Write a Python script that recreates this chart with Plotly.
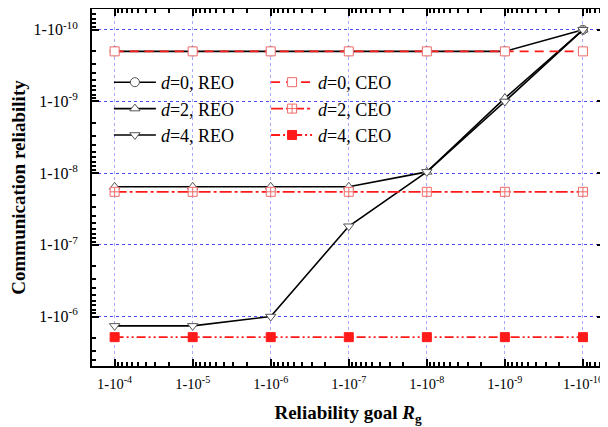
import plotly.graph_objects as go

# Reliability goal R_g, expressed as unreliability 1 - R_g (x positions)
goal_unrel = [1e-4, 1e-5, 1e-6, 1e-7, 1e-8, 1e-9, 1e-10]
x_ticktext = ["1-10<sup>-4</sup>", "1-10<sup>-5</sup>", "1-10<sup>-6</sup>", "1-10<sup>-7</sup>",
              "1-10<sup>-8</sup>", "1-10<sup>-9</sup>", "1-10<sup>-10</sup>"]

# Communication reliability, expressed as unreliability 1 - R
y_tickvals = [1e-6, 1e-7, 1e-8, 1e-9, 1e-10]
y_ticktext = ["1-10<sup>-6</sup>", "1-10<sup>-7</sup>", "1-10<sup>-8</sup>",
              "1-10<sup>-9</sup>", "1-10<sup>-10</sup>"]

reo_d0 = [2.0e-10, 2.0e-10, 2.0e-10, 2.0e-10, 2.0e-10, 2.0e-10, 1.0e-10]
reo_d2 = [1.55e-8, 1.55e-8, 1.55e-8, 1.55e-8, 9.6e-9, 9.0e-10, 1.0e-10]
reo_d4 = [1.35e-6, 1.35e-6, 1.0e-6, 5.5e-8, 9.6e-9, 1.0e-9, 1.0e-10]
ceo_d0 = [2.0e-10, 2.0e-10, 2.0e-10, 2.0e-10, 2.0e-10, 2.0e-10, 2.0e-10]
ceo_d2 = [1.82e-8, 1.82e-8, 1.82e-8, 1.82e-8, 1.82e-8, 1.82e-8, 1.82e-8]
ceo_d4 = [1.94e-6, 1.94e-6, 1.94e-6, 1.94e-6, 1.94e-6, 1.94e-6, 1.94e-6]

FONT = "Liberation Serif"
RED = "#ff1a1a"
LRED = "#f06a6a"

fig = go.Figure()

def reo(y, name, sym):
    fig.add_trace(go.Scatter(
        x=goal_unrel, y=y, name=name, mode="lines+markers", legend="legend",
        line=dict(color="black", width=1.6),
        marker=dict(symbol=sym, size=9, color="white", line=dict(color="#555555", width=1)),
    ))

def ceo(y, name, sym, dash, mcolor, mfill):
    fig.add_trace(go.Scatter(
        x=goal_unrel, y=y, name=name, mode="lines+markers", legend="legend2",
        line=dict(color=RED, width=1.8, dash=dash),
        marker=dict(symbol=sym, size=9, color=mfill, line=dict(color=mcolor, width=1)),
    ))

reo(reo_d0, "<i>d</i>=0, REO", "circle")
reo(reo_d2, "<i>d</i>=2, REO", "triangle-up")
reo(reo_d4, "<i>d</i>=4, REO", "triangle-down")
ceo(ceo_d0, "<i>d</i>=0, CEO", "square", "9px,6px", LRED, "white")
ceo(ceo_d2, "<i>d</i>=2, CEO", "square-cross", "12px,3px,3px,3px", LRED, "white")
ceo(ceo_d4, "<i>d</i>=4, CEO", "square", "9px,3px,2px,3px,2px,3px", RED, RED)

def minor_vals(lo, hi):
    vals = []
    for e in range(lo, hi + 1):
        for m in range(2, 10):
            vals.append(m * 10.0 ** e)
    return vals

axis_common = dict(
    type="log", showline=True, linecolor="black", linewidth=2, mirror="ticks",
    ticks="inside", ticklen=7, tickwidth=1.5, tickcolor="black",
    showgrid=True, griddash="dot", gridwidth=1, zeroline=False, automargin=False,
    tickfont=dict(family=FONT, size=14.5, color="black"),
)

# The page body adds an 8px offset, so the figure is 8px smaller than the window.
fig.update_layout(
    width=600, height=419,
    margin=dict(l=84, r=4, t=1, b=61),
    paper_bgcolor="white", plot_bgcolor="white",
    showlegend=True,
    font=dict(family=FONT, color="black"),
    xaxis=dict(
        axis_common, range=[-3.71, -10.27], tickmode="array",
        tickvals=goal_unrel, ticktext=x_ticktext, gridcolor="#a8a8ff",
        ticklabelstandoff=4,
        minor=dict(tickmode="array", tickvals=minor_vals(-11, -4), ticks="inside",
                   ticklen=4, tickcolor="black", showgrid=False),
        title=dict(text="<b>Reliability goal <i>R</i><sub>g</sub></b>",
                   font=dict(family=FONT, size=19, color="black"), standoff=14),
    ),
    yaxis=dict(
        axis_common, range=[-5.31, -10.29], tickmode="array",
        tickvals=y_tickvals, ticktext=y_ticktext, gridcolor="#4a4aff",
        ticklabelstandoff=9,
        tickfont=dict(family=FONT, size=16, color="black"),
        minor=dict(tickmode="array", tickvals=minor_vals(-11, -5), ticks="inside",
                   ticklen=4, tickcolor="black", showgrid=False),
        title=dict(text="<b>Communication reliability</b>",
                   font=dict(family=FONT, size=19, color="black"), standoff=8),
    ),
    legend=dict(x=0.033, y=0.846, xanchor="left", yanchor="top", bgcolor="rgba(0,0,0,0)",
                font=dict(family=FONT, size=18, color="black"), itemwidth=42,
                tracegroupgap=0),
    legend2=dict(x=0.34, y=0.846, xanchor="left", yanchor="top", bgcolor="rgba(0,0,0,0)",
                 font=dict(family=FONT, size=18, color="black"), itemwidth=42,
                 tracegroupgap=0),
)

fig.write_html("out.html")
